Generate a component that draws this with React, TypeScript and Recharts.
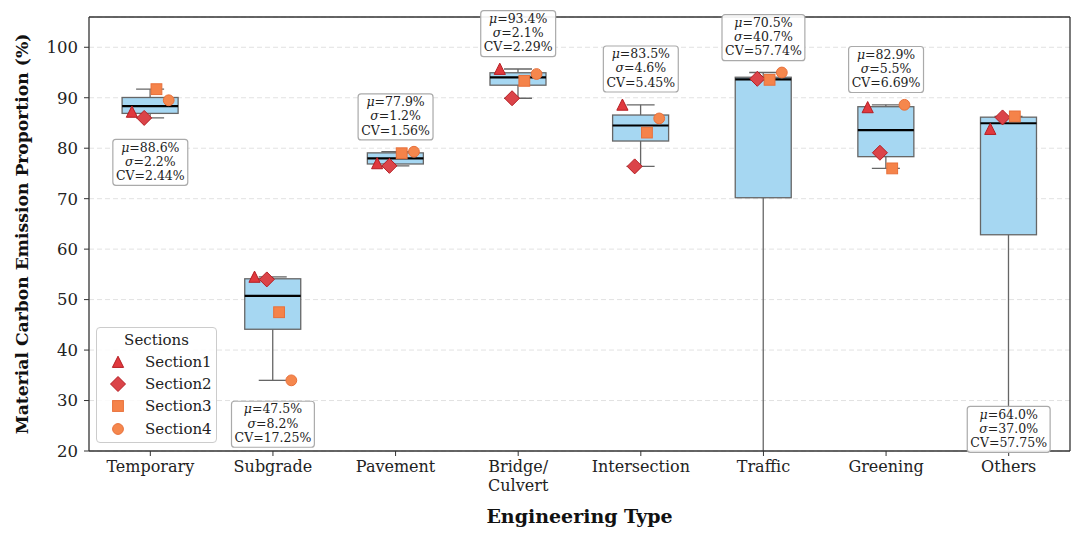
import {
  ComposedChart,
  Bar,
  Scatter,
  XAxis,
  YAxis,
  CartesianGrid,
  ReferenceDot,
  ReferenceLine,
  Legend,
} from "recharts";

const FONT = "'DejaVu Serif', serif";

const categories = [
  "Temporary",
  "Subgrade",
  "Pavement",
  "Bridge/\nCulvert",
  "Intersection",
  "Traffic",
  "Greening",
  "Others",
];

// values, one per category
const section1 = [87.2, 54.5, 77.0, 95.7, 88.6, 0.1, 88.1, 83.8];
const section2 = [86.0, 54.0, 76.5, 89.9, 76.4, 93.75, 79.1, 86.1];
const section3 = [91.7, 47.5, 79.0, 93.35, 83.1, 93.55, 76.0, 86.3];
const section4 = [89.5, 34.0, 79.3, 94.7, 85.9, 95.0, 88.6, 0.0];

const meanLabels = ["88.6", "47.5", "77.9", "93.4", "83.5", "70.5", "82.9", "64.0"];
const sigmaLabels = ["2.2", "8.2", "1.2", "2.1", "4.6", "40.7", "5.5", "37.0"];
const cvLabels = ["2.44", "17.25", "1.56", "2.29", "5.45", "57.74", "6.69", "57.75"];
// where each stats box sits on the y scale
const labelAnchor = [77.2, 25.3, 86.2, 102.7, 95.7, 101.9, 95.6, 24.3];

const yTicks = [20, 30, 40, 50, 60, 70, 80, 90, 100];

const sectionNames = ["Section1", "Section2", "Section3", "Section4"];
const sectionValues = [section1, section2, section3, section4];
const sectionOffsets = [-0.15, -0.05, 0.05, 0.15];

const quantile = (sorted: number[], p: number) => {
  const pos = (sorted.length - 1) * p;
  const lo = Math.floor(pos);
  const hi = Math.ceil(pos);
  return sorted[lo] + (sorted[hi] - sorted[lo]) * (pos - lo);
};

const boxData = categories.map((name, i) => {
  const vals = sectionValues.map((s) => s[i]).sort((a, b) => a - b);
  const min = vals[0];
  const max = vals[vals.length - 1];
  return {
    name,
    range: [min, max],
    min,
    q1: quantile(vals, 0.25),
    med: quantile(vals, 0.5),
    q3: quantile(vals, 0.75),
    max,
  };
});

const BoxShape = (props: any) => {
  const { x, y, width, height, payload } = props;
  const { min, q1, med, q3, max } = payload;
  const toY = (v: number) => y + ((max - v) / (max - min)) * height;
  const cx = x + width / 2;
  const cap = width / 4;
  return (
    <g>
      <line x1={cx} x2={cx} y1={toY(max)} y2={toY(q3)} stroke="#666" strokeWidth={1.3} />
      <line x1={cx} x2={cx} y1={toY(q1)} y2={toY(min)} stroke="#666" strokeWidth={1.3} />
      <line x1={cx - cap} x2={cx + cap} y1={toY(max)} y2={toY(max)} stroke="#666" strokeWidth={1.3} />
      <line x1={cx - cap} x2={cx + cap} y1={toY(min)} y2={toY(min)} stroke="#666" strokeWidth={1.3} />
      <rect
        x={x}
        y={toY(q3)}
        width={width}
        height={toY(q1) - toY(q3)}
        fill="#a6d7f2"
        stroke="#666"
        strokeWidth={1.3}
      />
      <line x1={x} x2={x + width} y1={toY(med)} y2={toY(med)} stroke="#000" strokeWidth={2.2} />
    </g>
  );
};

const markerColors = [
  { fill: "#e0393e", stroke: "#b51d22" },
  { fill: "#db4449", stroke: "#b51d22" },
  { fill: "#f5834a", stroke: "#e8703a" },
  { fill: "#f5874d", stroke: "#e8703a" },
];

const Marker = ({ kind, cx, cy }: { kind: number; cx: number; cy: number }) => {
  const c = markerColors[kind];
  if (kind === 0)
    return (
      <polygon
        points={`${cx},${cy - 5.8} ${cx + 5.6},${cy + 5.4} ${cx - 5.6},${cy + 5.4}`}
        fill={c.fill}
        stroke={c.stroke}
        strokeWidth={1}
      />
    );
  if (kind === 1)
    return (
      <polygon
        points={`${cx},${cy - 7.5} ${cx + 7.5},${cy} ${cx},${cy + 7.5} ${cx - 7.5},${cy}`}
        fill={c.fill}
        stroke={c.stroke}
        strokeWidth={1}
      />
    );
  if (kind === 2)
    return <rect x={cx - 5.4} y={cy - 5.4} width={10.8} height={10.8} fill={c.fill} stroke={c.stroke} strokeWidth={1} />;
  return <circle cx={cx} cy={cy} r={5.4} fill={c.fill} stroke={c.stroke} strokeWidth={1} />;
};

const charW: Record<string, number> = {
  ".": 0.318,
  "%": 0.95,
  "=": 0.838,
  C: 0.698,
  V: 0.722,
  "μ": 0.64,
  "σ": 0.6,
};
const textWidth = (s: string, size: number) =>
  s.split("").reduce((w, ch) => w + (charW[ch] ?? 0.636), 0) * size;

const StatsBox = ({ cx, cy, index }: any) => {
  const size = 12.5;
  const lines = [`μ=${meanLabels[index]}%`, `σ=${sigmaLabels[index]}%`, `CV=${cvLabels[index]}%`];
  const w = Math.max(...lines.map((l) => textWidth(l, size))) + 7;
  const h = 46;
  return (
    <g>
      <rect
        x={cx - w / 2}
        y={cy - h / 2}
        width={w}
        height={h}
        rx={3}
        fill="#fff"
        fillOpacity={0.92}
        stroke="#aaa"
        strokeWidth={1.2}
      />
      <text x={cx} y={cy - 10.8} textAnchor="middle" fontFamily={FONT} fontSize={size} fill="#222">
        <tspan fontStyle="italic">μ</tspan>
        {`=${meanLabels[index]}%`}
      </text>
      <text x={cx} y={cy + 3.4} textAnchor="middle" fontFamily={FONT} fontSize={size} fill="#222">
        <tspan fontStyle="italic">σ</tspan>
        {`=${sigmaLabels[index]}%`}
      </text>
      <text x={cx} y={cy + 17.6} textAnchor="middle" fontFamily={FONT} fontSize={size} fill="#222">
        {`CV=${cvLabels[index]}%`}
      </text>
    </g>
  );
};

const CategoryTick = ({ x, y, payload }: any) => {
  const lines = String(payload.value).split("\n");
  return (
    <text x={x} y={y} textAnchor="middle" fontFamily={FONT} fontSize={16} fill="#222">
      {lines.map((l, i) => (
        <tspan key={i} x={x} dy={i === 0 ? "0.9em" : "1.15em"}>
          {l}
        </tspan>
      ))}
    </text>
  );
};

const YLabel = ({ viewBox }: any) => {
  const cx = viewBox.x + 28;
  const cy = viewBox.y + viewBox.height / 2;
  return (
    <text
      x={cx}
      y={cy}
      transform={`rotate(-90 ${cx} ${cy})`}
      textAnchor="middle"
      fontFamily={FONT}
      fontWeight="bold"
      fontSize={17.2}
      fill="#111"
    >
      Material Carbon Emission Proportion (%)
    </text>
  );
};

const SectionsLegend = () => (
  <div
    style={{
      width: 121,
      height: 116,
      boxSizing: "border-box",
      border: "1px solid #ccc",
      borderRadius: 4,
      background: "rgba(255,255,255,0.85)",
      fontFamily: FONT,
      fontSize: 15,
      color: "#222",
      padding: "1px 0 0 0",
    }}
  >
    <div style={{ textAlign: "center", height: 22, lineHeight: "22px" }}>Sections</div>
    {sectionNames.map((name, k) => (
      <div key={name} style={{ display: "flex", alignItems: "center", height: 22.2 }}>
        <svg width={48} height={20} style={{ flex: "none" }}>
          <Marker kind={k} cx={21} cy={10} />
        </svg>
        <span>{name}</span>
      </div>
    ))}
  </div>
);

export default function App() {
  return (
    <div style={{ position: "absolute", left: 0, top: 0, background: "#fff" }}>
      <ComposedChart
        width={1085}
        height={538}
        data={boxData}
        margin={{ top: 17, right: 15, left: 0, bottom: 0 }}
        barCategoryGap="27%"
      >
        <CartesianGrid vertical={false} stroke="#e2e2e2" strokeDasharray="5 3" />
        <XAxis
          dataKey="name"
          height={87}
          tick={<CategoryTick />}
          tickSize={5}
          tickMargin={2}
          axisLine={{ stroke: "#333", strokeWidth: 1.3 }}
          tickLine={{ stroke: "#333" }}
          interval={0}
          label={{
            value: "Engineering Type",
            position: "insideBottom",
            offset: 15,
            style: { fontFamily: FONT, fontWeight: "bold", fontSize: 19, fill: "#111" },
          }}
        />
        <XAxis
          xAxisId="num"
          type="number"
          dataKey="x"
          domain={[-0.5, 7.5]}
          allowDataOverflow
          hide
        />
        <YAxis
          width={89}
          domain={[20, 106]}
          allowDataOverflow
          ticks={yTicks}
          tickSize={5}
          tickMargin={6}
          axisLine={{ stroke: "#333", strokeWidth: 1.3 }}
          tickLine={{ stroke: "#333" }}
          tick={{ fontFamily: FONT, fontSize: 16.5, fill: "#222" }}
          label={<YLabel />}
        />
        <ReferenceLine y={106} stroke="#333" strokeWidth={1.3} ifOverflow="visible" />
        <ReferenceLine x={7.5} xAxisId="num" stroke="#333" strokeWidth={1.3} ifOverflow="visible" />
        <Bar dataKey="range" shape={<BoxShape />} isAnimationActive={false} />
        {sectionValues.map((vals, k) => (
          <Scatter
            key={sectionNames[k]}
            name={sectionNames[k]}
            xAxisId="num"
            data={vals.map((v, i) => ({ x: i + sectionOffsets[k], y: v }))}
            dataKey="y"
            shape={(p: any) => <Marker kind={k} cx={p.cx} cy={p.cy} />}
            isAnimationActive={false}
          />
        ))}
        {categories.map((c, i) => (
          <ReferenceDot
            key={c}
            x={c}
            y={labelAnchor[i]}
            r={1}
            ifOverflow="visible"
            shape={(p: any) => <StatsBox cx={p.cx} cy={p.cy} index={i} />}
          />
        ))}
        <Legend
          layout="vertical"
          align="center"
          verticalAlign="middle"
          content={() => <SectionsLegend />}
          wrapperStyle={{ position: "absolute", left: 96, top: 327, width: 121, height: 116 }}
        />
      </ComposedChart>
    </div>
  );
}
